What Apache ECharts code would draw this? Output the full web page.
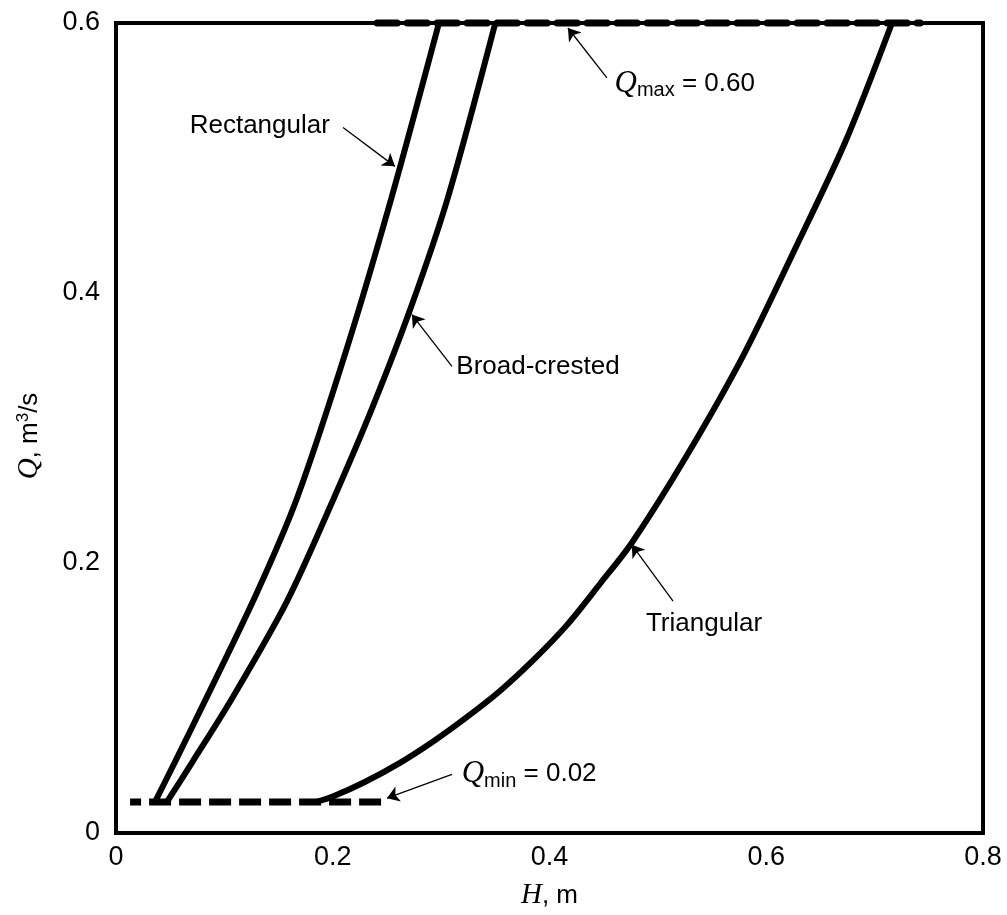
<!DOCTYPE html>
<html><head><meta charset="utf-8">
<script src="https://cdn.jsdelivr.net/npm/echarts@6/dist/echarts.min.js"></script>
<style>html,body{margin:0;padding:0;background:#fff}#c{width:1007px;height:915px}</style>
</head><body><div id="c"></div>
<script>
// ---- data ----
const hTicks = [0, 0.2, 0.4, 0.6, 0.8];
const qTicks = [0, 0.2, 0.4, 0.6];

const rectH = [0.036, 0.054, 0.084, 0.130, 0.167, 0.213, 0.254, 0.298];
const rectQ = [0.023, 0.052, 0.101, 0.178, 0.248, 0.359, 0.470, 0.600];

const broadH = [0.047, 0.070, 0.108, 0.158, 0.201, 0.237, 0.272, 0.306, 0.350];
const broadQ = [0.023, 0.052, 0.101, 0.172, 0.248, 0.316, 0.389, 0.470, 0.600];

const triH = [0.185, 0.200, 0.230, 0.262, 0.293, 0.324, 0.354, 0.385, 0.416, 0.447, 0.476, 0.527, 0.579, 0.625, 0.673, 0.716];
const triQ = [0.023, 0.027, 0.038, 0.052, 0.068, 0.086, 0.105, 0.128, 0.154, 0.185, 0.215, 0.280, 0.354, 0.430, 0.512, 0.600];

const qminH = [0.013, 0.247];
const qminQ = [0.023, 0.023];
const qmaxH = [0.241, 0.742];
const qmaxQ = [0.600, 0.600];

// annotation texts, anchor (left-middle of text) and arrow from/to, in data units
const annoText = ['Rectangular', '{q|Q}{sub|max} = 0.60', 'Broad-crested', 'Triangular', '{q|Q}{sub|min} = 0.02'];
const annoAnchor = [[0.068, 0.524], [0.460, 0.555], [0.314, 0.345], [0.489, 0.155], [0.319, 0.0435]];
const arrowFrom = [[0.2095, 0.5226], [0.453, 0.5594], [0.310, 0.3457], [0.514, 0.1717], [0.310, 0.0435]];
const arrowTo   = [[0.2574, 0.4938], [0.417, 0.5963], [0.273, 0.384], [0.476, 0.2135], [0.250, 0.0258]];

const zip = (a, b) => a.map((v, i) => [v, b[i]]);
const FONT = 'Liberation Sans';

const chart = echarts.init(document.getElementById('c'), null, {renderer: 'canvas'});

const curveStyle = {color: '#000', width: 6};
const labelStyle = {show: true, position: 'right', distance: 0, color: '#000', opacity: 1, fontFamily: FONT, fontSize: 26,
  rich: {
    q: {fontFamily: 'Liberation Serif', fontStyle: 'italic', fontSize: 31, color: '#000', lineHeight: 34},
    sub: {fontFamily: FONT, fontSize: 20, verticalAlign: 'bottom', color: '#000', lineHeight: 34}
  }};

chart.setOption({
  backgroundColor: '#fff',
  animation: false,
  grid: {left: 116, right: 24, top: 23, bottom: 78, show: true, borderColor: '#000', borderWidth: 4, backgroundColor: 'transparent'},
  xAxis: {
    type: 'value', min: hTicks[0], max: hTicks[hTicks.length - 1], interval: 0.2,
    axisLine: {show: false}, axisTick: {show: false}, splitLine: {show: false},
    axisLabel: {color: '#000', fontFamily: FONT, fontSize: 27, margin: 11},
    name: '{i|H}, m', nameLocation: 'middle', nameGap: 48,
    nameTextStyle: {color: '#000', fontFamily: FONT, fontSize: 26,
      rich: {i: {fontFamily: 'Liberation Serif', fontStyle: 'italic', fontSize: 29, color: '#000'}}}
  },
  yAxis: {
    type: 'value', min: qTicks[0], max: qTicks[qTicks.length - 1], interval: 0.2,
    axisLine: {show: false}, axisTick: {show: false}, splitLine: {show: false},
    axisLabel: {color: '#000', fontFamily: FONT, fontSize: 27, margin: 16},
    name: '{i|Q}, m{s|3}/s', nameLocation: 'middle', nameGap: 72,
    nameTextStyle: {color: '#000', fontFamily: FONT, fontSize: 26, padding: [0, 16, 0, 0],
      rich: {
        i: {fontFamily: 'Liberation Serif', fontStyle: 'italic', fontSize: 29, color: '#000'},
        s: {fontFamily: FONT, fontSize: 17, verticalAlign: 'top', color: '#000'}
      }}
  },
  series: [
    {name: 'Rectangular', type: 'line', data: zip(rectH, rectQ), smooth: 0.3, showSymbol: false, clip: false, lineStyle: curveStyle, z: 3},
    {name: 'Broad-crested', type: 'line', data: zip(broadH, broadQ), smooth: 0.3, showSymbol: false, clip: false, lineStyle: curveStyle, z: 3},
    {name: 'Triangular', type: 'line', data: zip(triH, triQ), smooth: 0.3, showSymbol: false, clip: false, lineStyle: curveStyle, z: 3},
    {name: 'Qmin', type: 'line', data: zip(qminH, qminQ), showSymbol: false, clip: false,
      lineStyle: {color: '#000', width: 7, type: [22, 8], dashOffset: 11, cap: 'butt'}, z: 4},
    {name: 'Qmax', type: 'line', data: zip(qmaxH, qmaxQ), showSymbol: false, clip: false,
      lineStyle: {color: '#000', width: 7, type: [20, 10], cap: 'round'}, z: 4},
    {name: 'arrows', type: 'lines', coordinateSystem: 'cartesian2d', clip: false,
      symbol: ['none', 'arrow'], symbolSize: [7, 12],
      lineStyle: {color: '#000', width: 1.3, opacity: 1},
      data: arrowFrom.map((f, i) => ({coords: [f, arrowTo[i]]})), z: 5},
    {name: 'labels', type: 'scatter', symbolSize: 0, clip: false, silent: true,
      data: annoAnchor.map((p, i) => ({value: p, label: Object.assign({}, labelStyle, {formatter: annoText[i]})})),
      label: labelStyle, z: 6}
  ]
});
</script></body></html>
